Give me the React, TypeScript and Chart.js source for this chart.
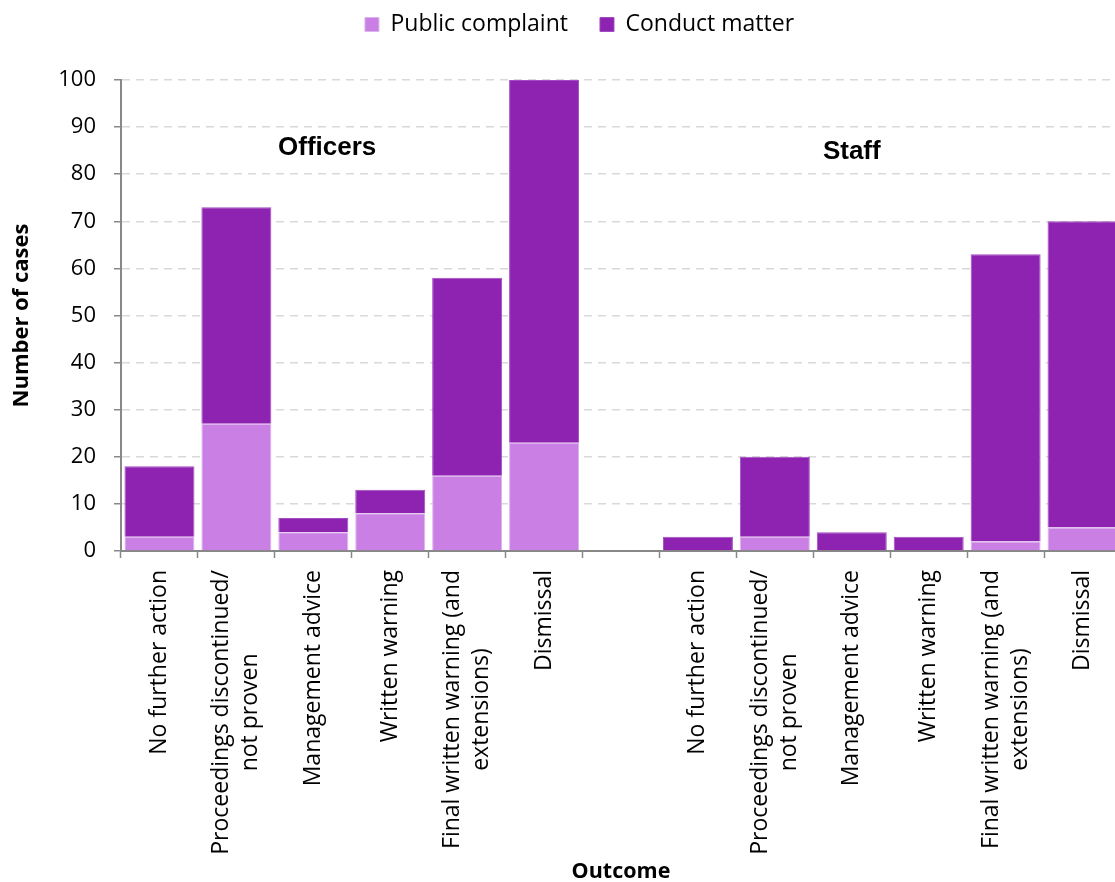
import React, { useEffect, useRef } from "react";
import { Chart, registerables } from "chart.js";

Chart.register(...registerables);

const categories: string[][] = [
  ["No further action"],
  ["Proceedings discontinued/", "not proven"],
  ["Management advice"],
  ["Written warning"],
  ["Final written warning (and", "extensions)"],
  ["Dismissal"],
  [""],
  ["No further action"],
  ["Proceedings discontinued/", "not proven"],
  ["Management advice"],
  ["Written warning"],
  ["Final written warning (and", "extensions)"],
  ["Dismissal"],
];

const publicComplaint = [3, 27, 4, 8, 16, 23, null, 0, 3, 0, 0, 2, 5];
const conductMatter = [15, 46, 3, 5, 42, 77, null, 3, 17, 4, 3, 61, 65];

const seriesNames = ["Public complaint", "Conduct matter"];
const seriesColors = ["#C97FE4", "#8E22B1"];

const groupLabels = ["Officers", "Staff"];
// position of group labels: [category position, value]
const groupLabelPos = [
  [2.18, 85.7],
  [9.0, 84.8],
];

const yMin = 0;
const yMax = 100;
const yStep = 10;

const FONT = "'Open Sans', sans-serif";

const legendPlugin = {
  id: "legendTweak",
  beforeInit(chart: any) {
    const legend = chart.legend;
    if (!legend) return;
    const origFit = legend.fit;
    legend.fit = function () {
      origFit.call(this);
      this.height = 99;
    };
  },
  afterLayout(chart: any) {
    const legend = chart.legend;
    if (!legend) return;
    legend.left += 19;
    legend.right += 19;
  },
};

const labelPlugin = {
  id: "customLabels",
  afterDraw(chart: any) {
    const { ctx } = chart;
    const xs = chart.scales.x;
    const ys = chart.scales.y;
    ctx.save();
    ctx.fillStyle = "#000";
    ctx.font = `23px ${FONT}`;
    const lineH = 29;
    const topY = ys.getPixelForValue(0) + 19;
    categories.forEach((lines, i) => {
      const x = xs.getPixelForValue(i);
      const maxW = Math.max(...lines.map((l) => ctx.measureText(l).width));
      ctx.save();
      ctx.translate(x, topY);
      ctx.rotate(-Math.PI / 2);
      ctx.textAlign = "center";
      ctx.textBaseline = "middle";
      lines.forEach((l, j) => {
        ctx.fillText(l, -maxW / 2, (j - (lines.length - 1) / 2) * lineH);
      });
      ctx.restore();
    });
    ctx.font = `bold 26px 'Liberation Sans', Arial, sans-serif`;
    ctx.textAlign = "center";
    ctx.textBaseline = "middle";
    groupLabels.forEach((t, i) => {
      const [cx, v] = groupLabelPos[i];
      const px = xs.left + ((cx + 0.5) / categories.length) * (xs.right - xs.left);
      ctx.fillText(t, px, ys.getPixelForValue(v));
    });
    ctx.restore();
  },
};

export default function App() {
  const ref = useRef<HTMLCanvasElement | null>(null);
  useEffect(() => {
    if (!ref.current) return;
    const chart = new Chart(ref.current, {
      type: "bar",
      data: {
        labels: categories.map((c) => c.join(" ")),
        datasets: [
          {
            label: seriesNames[0],
            data: publicComplaint as any,
            backgroundColor: seriesColors[0],
            borderColor: "#DDB3EE",
            borderWidth: 1,
            barPercentage: 0.91,
            categoryPercentage: 1,
          },
          {
            label: seriesNames[1],
            data: conductMatter as any,
            backgroundColor: seriesColors[1],
            borderColor: "#A24BC2",
            borderWidth: 1,
            barPercentage: 0.91,
            categoryPercentage: 1,
          },
        ],
      },
      options: {
        animation: false,
        responsive: true,
        maintainAspectRatio: false,
        layout: { padding: { left: 0, right: 39, top: -19, bottom: 0 } },
        plugins: {
          legend: {
            position: "top",
            labels: {
              boxWidth: 14,
              boxHeight: 14,
              padding: 32,
              color: "#000",
              font: { family: FONT, size: 23 },
            },
          },
          tooltip: { enabled: false },
        },
        scales: {
          x: {
            stacked: true,
            offset: true,
            grid: {
              display: true,
              offset: true,
              drawOnChartArea: false,
              drawTicks: true,
              tickLength: 7,
              tickColor: "#888",
              tickWidth: 1.5,
            },
            border: { display: true, color: "#888", width: 2 },
            ticks: { display: false },
            title: {
              display: true,
              text: "Outcome",
              color: "#000",
              font: { family: FONT, size: 21.5, weight: "bold" },
              padding: { top: 0, bottom: -3 },
            },
            afterFit: (s: any) => {
              s.height = 331;
            },
          },
          y: {
            stacked: true,
            min: yMin,
            max: yMax,
            grid: {
              color: "#D9D9D9",
              lineWidth: 1.5,
              tickColor: "#888",
              tickLength: 7,
              tickWidth: 1.5,
            },
            border: { display: true, color: "#888", width: 2, dash: [8, 6] },
            ticks: {
              stepSize: yStep,
              color: "#000",
              padding: 18,
              font: { family: FONT, size: 22 },
            },
            title: {
              display: true,
              text: "Number of cases",
              color: "#000",
              font: { family: FONT, size: 22, weight: "bold" },
              padding: { top: 9, bottom: 0 },
            },
            afterFit: (s: any) => {
              s.width = 121;
            },
          },
        },
      },
      plugins: [legendPlugin, labelPlugin],
    });
    return () => chart.destroy();
  }, []);
  return (
    <div
      style={{
        position: "fixed",
        left: 0,
        top: 0,
        width: 1115,
        height: 882,
        overflow: "hidden",
        background: "#fff",
      }}
    >
      <div style={{ position: "relative", width: 1160, height: 882 }}>
        <canvas ref={ref} />
      </div>
    </div>
  );
}
